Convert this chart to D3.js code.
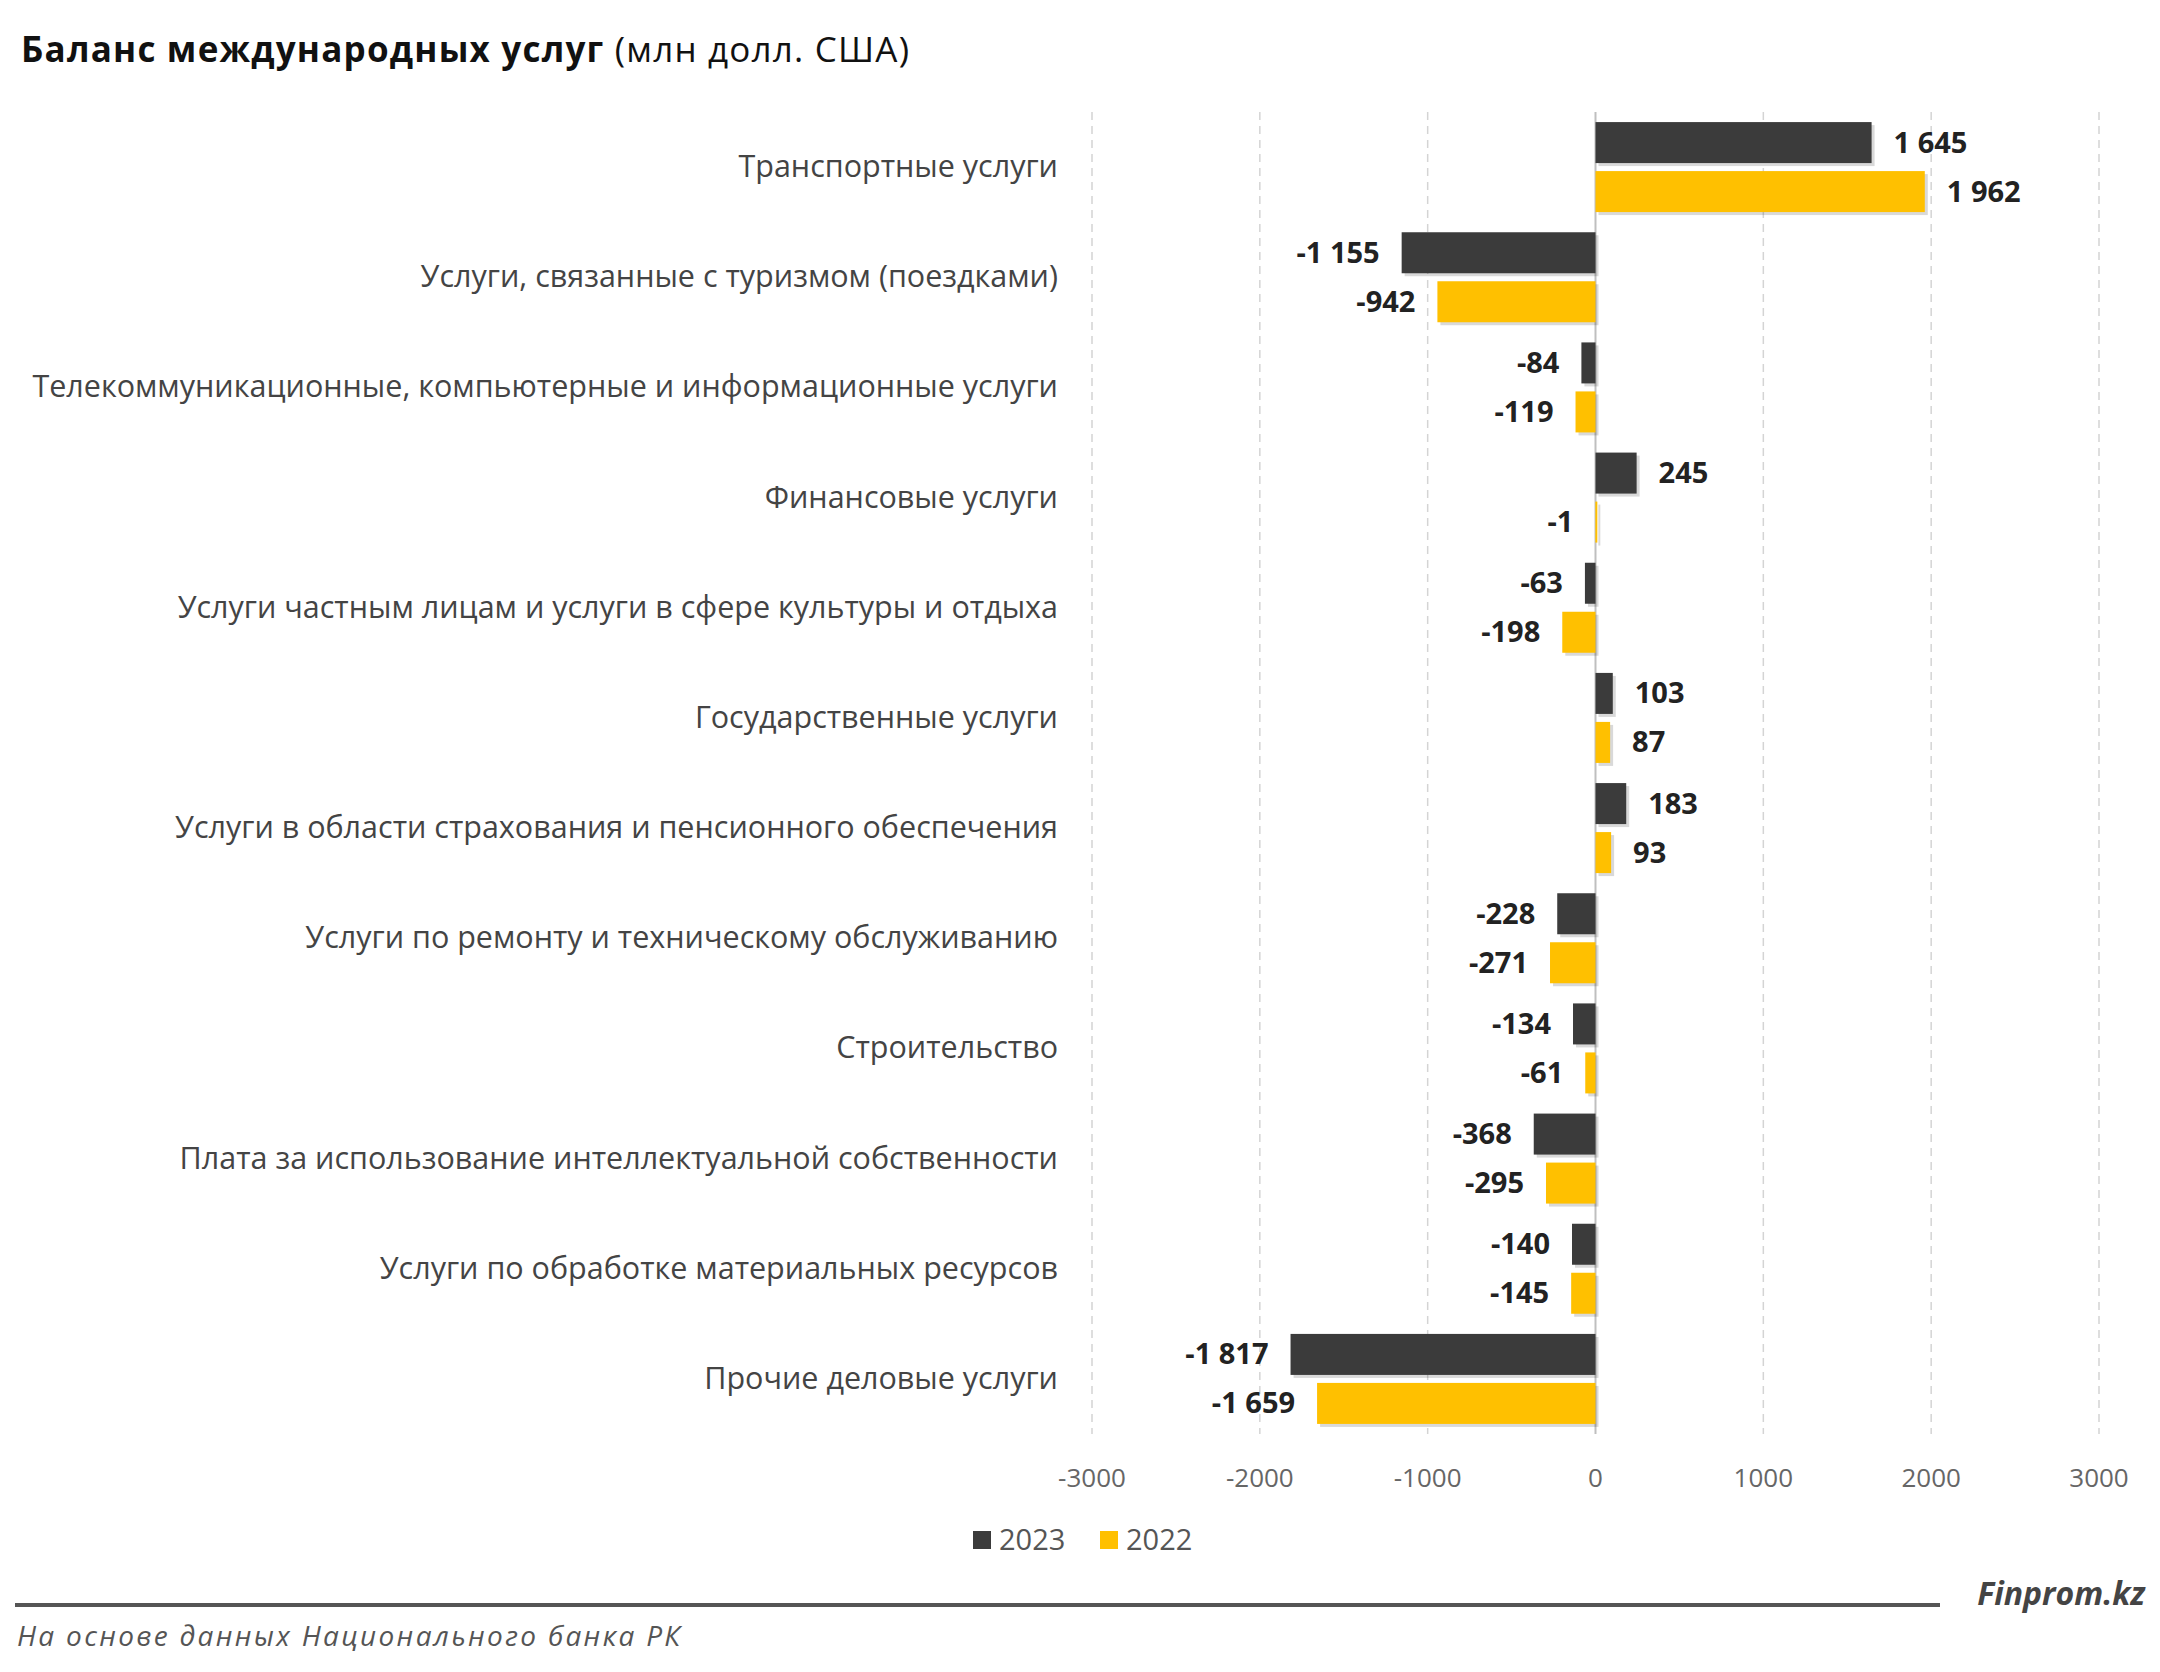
<!DOCTYPE html>
<html><head><meta charset="utf-8">
<script src="https://cdn.jsdelivr.net/npm/d3@7"></script>
<style>body{margin:0;background:#fff}</style></head>
<body><svg id="c" width="2160" height="1672"></svg>
<script>
const categories=["Транспортные услуги","Услуги, связанные с туризмом (поездками)","Телекоммуникационные, компьютерные и информационные услуги","Финансовые услуги","Услуги частным лицам и услуги в сфере культуры и отдыха","Государственные услуги","Услуги в области страхования и пенсионного обеспечения","Услуги по ремонту и техническому обслуживанию","Строительство","Плата за использование интеллектуальной собственности","Услуги по обработке материальных ресурсов","Прочие деловые услуги"];
const v2023=[1645,-1155,-84,245,-63,103,183,-228,-134,-368,-140,-1817];
const v2022=[1962,-942,-119,-1,-198,87,93,-271,-61,-295,-145,-1659];
const ticks=[-3000,-2000,-1000,0,1000,2000,3000];
const series=[{name:"2023",vals:v2023,color:"#3b3b3b"},{name:"2022",vals:v2022,color:"#FFC000"}];
const F="'Open Sans','Noto Sans',sans-serif";
const svg=d3.select("#c");
const x=d3.scaleLinear().domain([-3000,3000]).range([1092,2099]);
const y=d3.scaleBand().domain(categories).range([112,1434]);
const fmt=v=>{const s=Math.abs(v).toString().replace(/\B(?=(\d{3})+(?!\d))/g," ");return (v<0?"-":"")+s;};
const t=svg.append("text").attr("x",21).attr("y",62).attr("font-family",F).attr("font-size",35).attr("fill","#111").attr("textLength",888);
t.append("tspan").attr("font-weight","bold").text("Баланс международных услуг");
t.append("tspan").text(" (млн долл. США)");
svg.selectAll(".g").data(ticks.filter(d=>d!==0)).join("line").attr("x1",d=>x(d)).attr("x2",d=>x(d)).attr("y1",112).attr("y2",1434).attr("stroke","#d4d4d4").attr("stroke-width",1.5).attr("stroke-dasharray","8,6");
svg.append("line").attr("x1",x(0)).attr("x2",x(0)).attr("y1",112).attr("y2",1434).attr("stroke","#bfbfbf").attr("stroke-width",2);
svg.selectAll(".tk").data(ticks).join("text").attr("x",d=>x(d)).attr("y",1487).attr("text-anchor","middle").attr("font-family",F).attr("font-size",26).attr("fill","#666").text(d=>d);
svg.selectAll(".cat").data(categories).join("text").attr("x",1058).attr("y",d=>y(d)+y.bandwidth()/2+10).attr("text-anchor","end").attr("font-family",F).attr("font-size",30.5).attr("fill","#444").text(d=>d);
const bh=41,gap=8;
series.forEach((s,i)=>{
  categories.forEach((c,j)=>{
    const v=s.vals[j];const top=y(c)+y.bandwidth()/2-bh-gap/2+i*(bh+gap);
    svg.append("rect").attr("x",Math.min(x(0),x(v))+3).attr("y",top+3).attr("width",Math.max(Math.abs(x(v)-x(0)),2)).attr("height",bh).attr("fill","#000").attr("opacity",0.15);
    svg.append("rect").attr("x",Math.min(x(0),x(v))).attr("y",top).attr("width",Math.max(Math.abs(x(v)-x(0)),2)).attr("height",bh).attr("fill",s.color);
    svg.append("text").attr("x",v>=0?x(v)+22:x(v)-22).attr("y",top+bh/2+10).attr("text-anchor",v>=0?"start":"end").attr("font-family",F).attr("font-weight","bold").attr("font-size",29).attr("fill","#222").text(fmt(v));
  });
});
const lg=svg.append("g");
[[973,"2023",series[0].color],[1100,"2022",series[1].color]].forEach(([lx,n,c])=>{
  lg.append("rect").attr("x",lx).attr("y",1531).attr("width",18).attr("height",18).attr("fill",c);
  lg.append("text").attr("x",lx+26).attr("y",1550).attr("font-family",F).attr("font-size",29).attr("fill","#555").text(n);
});
svg.append("line").attr("x1",15).attr("x2",1940).attr("y1",1605).attr("y2",1605).attr("stroke","#555").attr("stroke-width",4);
svg.append("text").attr("x",2145).attr("y",1605).attr("text-anchor","end").attr("font-family",F).attr("font-style","italic").attr("font-weight","bold").attr("font-size",32).attr("fill","#444").text("Finprom.kz");
svg.append("text").attr("x",17).attr("y",1646).attr("font-family",F).attr("font-style","italic").attr("font-size",28).attr("fill","#555").attr("textLength",663).text("На основе данных Национального банка РК");
</script></body></html>
